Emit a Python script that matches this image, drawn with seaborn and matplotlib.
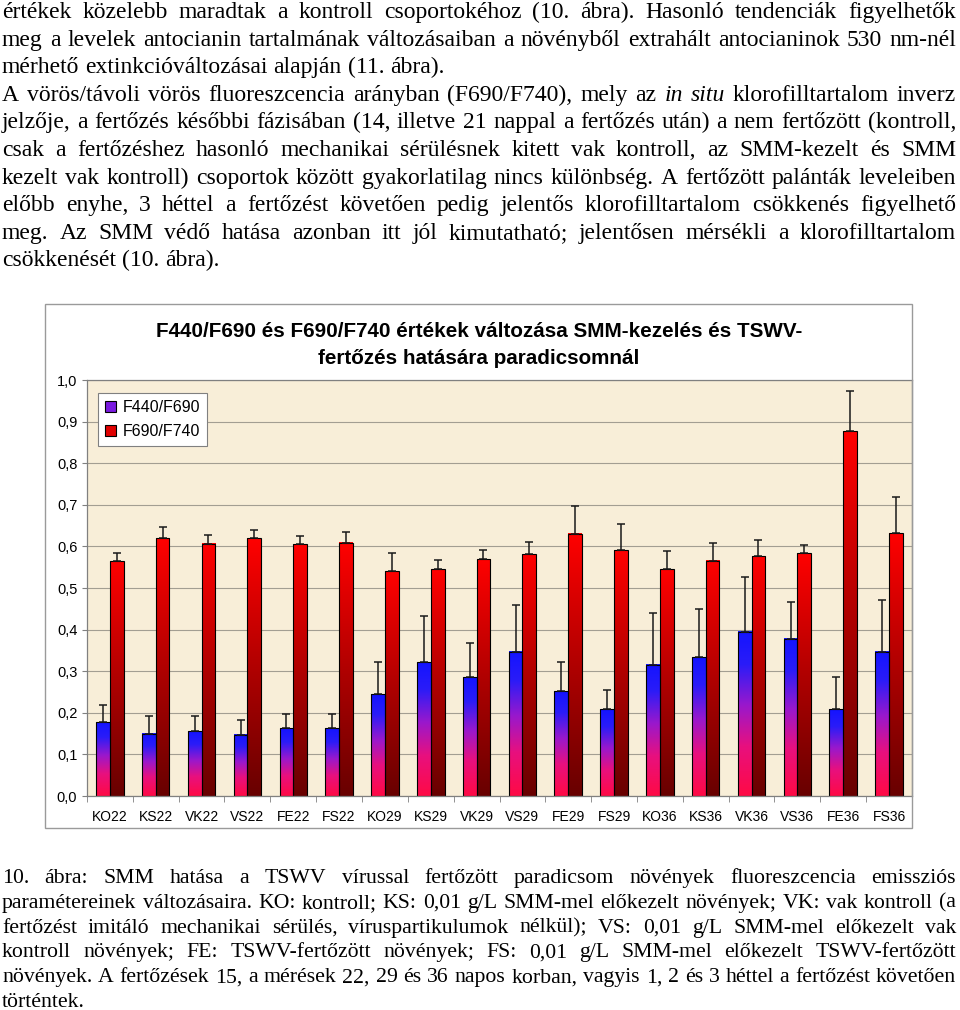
import numpy as np
import pandas as pd
import matplotlib
matplotlib.use("Agg")
import matplotlib.pyplot as plt
import seaborn as sns
from matplotlib.colors import LinearSegmentedColormap
from matplotlib.patches import Rectangle, Patch

# ---------------- data ----------------
groups = ["KO22", "KS22", "VK22", "VS22", "FE22", "FS22",
          "KO29", "KS29", "VK29", "VS29", "FE29", "FS29",
          "KO36", "KS36", "VK36", "VS36", "FE36", "FS36"]
series_names = ["F440/F690", "F690/F740"]
f440_f690 = [0.177, 0.150, 0.156, 0.147, 0.163, 0.163,
             0.244, 0.321, 0.285, 0.347, 0.252, 0.209,
             0.316, 0.334, 0.395, 0.378, 0.209, 0.347]
f440_f690_err = [0.042, 0.043, 0.037, 0.036, 0.034, 0.034,
                 0.077, 0.112, 0.082, 0.112, 0.069, 0.046,
                 0.125, 0.115, 0.132, 0.089, 0.077, 0.123]
f690_f740 = [0.564, 0.619, 0.606, 0.619, 0.605, 0.609,
             0.540, 0.545, 0.569, 0.581, 0.630, 0.591,
             0.545, 0.566, 0.576, 0.584, 0.877, 0.632]
f690_f740_err = [0.021, 0.028, 0.021, 0.020, 0.019, 0.026,
                 0.045, 0.023, 0.022, 0.030, 0.066, 0.064,
                 0.044, 0.043, 0.040, 0.020, 0.096, 0.087]
y_ticks = [0.0, 0.1, 0.2, 0.3, 0.4, 0.5, 0.6, 0.7, 0.8, 0.9, 1.0]
y_tick_labels = ["0,0", "0,1", "0,2", "0,3", "0,4", "0,5",
                 "0,6", "0,7", "0,8", "0,9", "1,0"]
chart_title = ["F440/F690 és F690/F740 értékek változása SMM-kezelés és TSWV-",
               "fertőzés hatására paradicsomnál"]

body_lines = [
    ("értékek közelebb maradtak a kontroll csoportokéhoz (10. ábra). Hasonló tendenciák figyelhetők", True),
    ("meg a levelek antocianin tartalmának változásaiban a növényből extrahált antocianinok 530 nm-nél", True),
    ("mérhető extinkcióváltozásai alapján (11. ábra).", False),
    ("A vörös/távoli vörös fluoreszcencia arányban (F690/F740), mely az *in* *situ* klorofilltartalom inverz", True),
    ("jelzője, a fertőzés későbbi fázisában (14, illetve 21 nappal a fertőzés után) a nem fertőzött (kontroll,", True),
    ("csak a fertőzéshez hasonló mechanikai sérülésnek kitett vak kontroll, az SMM-kezelt és SMM", True),
    ("kezelt vak kontroll) csoportok között gyakorlatilag nincs különbség. A fertőzött palánták leveleiben", True),
    ("előbb enyhe, 3 héttel a fertőzést követően pedig jelentős klorofilltartalom csökkenés figyelhető", True),
    ("meg. Az SMM védő hatása azonban itt jól kimutatható; jelentősen mérsékli a klorofilltartalom", True),
    ("csökkenését (10. ábra).", False),
]
caption_lines = [
    ("10. ábra: SMM hatása a TSWV vírussal fertőzött paradicsom növények fluoreszcencia emissziós", True),
    ("paramétereinek változásaira. KO: kontroll; KS: 0,01 g/L SMM-mel előkezelt növények; VK: vak kontroll (a", True),
    ("fertőzést imitáló mechanikai sérülés, víruspartikulumok nélkül); VS: 0,01 g/L SMM-mel előkezelt vak", True),
    ("kontroll növények; FE: TSWV-fertőzött növények; FS: 0,01 g/L SMM-mel előkezelt TSWV-fertőzött", True),
    ("növények. A fertőzések 15, a mérések 22, 29 és 36 napos korban, vagyis 1, 2 és 3 héttel a fertőzést követően", True),
    ("történtek.", False),
]

# ---------------- figure ----------------
W, H = 960, 1010
plt.rcParams["font.family"] = ["Liberation Sans", "DejaVu Sans"]
fig = plt.figure(figsize=(W / 100, H / 100), dpi=100)
fig.patch.set_facecolor("white")
renderer = fig.canvas.get_renderer()

SERIF = ["Liberation Serif", "DejaVu Serif"]


def draw_lines(lines, baselines, size, left=2, right=956):
    target = right - left
    tmp1 = fig.text(0, 0, "a a", fontsize=size, family=SERIF)
    tmp2 = fig.text(0, 0, "aa", fontsize=size, family=SERIF)
    space = tmp1.get_window_extent(renderer).width - tmp2.get_window_extent(renderer).width
    tmp1.remove(); tmp2.remove()
    for (line, justify), yb in zip(lines, baselines):
        texts = []
        for w in line.split(" "):
            style = "normal"
            if w.startswith("*") and w.endswith("*"):
                w = w.strip("*")
                style = "italic"
            t = fig.text(0, 1 - yb / H, w, fontsize=size, family=SERIF,
                         style=style, va="baseline", ha="left", color="black")
            texts.append(t)
        widths = [t.get_window_extent(renderer).width for t in texts]
        sp = space
        natural = sum(widths) + sp * (len(texts) - 1)
        if natural > target:
            f = target / natural * 0.995
            for t in texts:
                t.set_fontsize(size * f)
            widths = [t.get_window_extent(renderer).width for t in texts]
            sp = space * f
        if justify and len(texts) > 1:
            gap = (target - sum(widths)) / (len(texts) - 1)
        else:
            gap = sp
        x = left
        for t, w in zip(texts, widths):
            t.set_x(x / W)
            x += w + gap


draw_lines(body_lines, [18 + 27.6 * i for i in range(len(body_lines))], 17.0)
draw_lines(caption_lines, [883 + 24.8 * i for i in range(len(caption_lines))], 15.7)

# chart outer border
fig.add_artist(Rectangle((45 / W, 1 - 828 / H), (912 - 45) / W, (828 - 304) / H,
                         transform=fig.transFigure, fill=False,
                         edgecolor="#9a9a9a", lw=1.0))
fig.text(479 / W, 1 - 331 / H, chart_title[0], ha="center", va="center",
         fontsize=14.9, weight="bold", family=["Liberation Sans", "DejaVu Sans"])
fig.text(479 / W, 1 - 358 / H, chart_title[1], ha="center", va="center",
         fontsize=14.9, weight="bold", family=["Liberation Sans", "DejaVu Sans"])

# ---------------- axes ----------------
ax = fig.add_axes([87 / W, 1 - 796 / H, (912 - 87) / W, (796 - 380) / H])
ax.set_facecolor("#F8EED8")
ax.set_axisbelow(True)
ax.yaxis.grid(True, color="#A39E92", lw=0.8)

df = pd.DataFrame({
    "group": groups * 2,
    "series": [series_names[0]] * len(groups) + [series_names[1]] * len(groups),
    "value": f440_f690 + f690_f740,
})
sns.barplot(data=df, x="group", y="value", hue="series", order=groups,
            hue_order=series_names, palette=["#6020E0", "#D00000"], width=0.6,
            errorbar=None, edgecolor="black", linewidth=0.8, saturation=1,
            legend=False, ax=ax)

cmaps = [
    LinearSegmentedColormap.from_list("bp", [(0.0, "#FF0A45"), (0.3, "#E8107E"),
                                             (0.55, "#9A18CC"), (0.8, "#2A1CF8"),
                                             (1.0, "#1414FF")]),
    LinearSegmentedColormap.from_list("rd", [(0.0, "#680000"), (0.5, "#B00000"),
                                             (1.0, "#FF0000")]),
]
errs = [f440_f690_err, f690_f740_err]
grad = np.linspace(0, 1, 256).reshape(-1, 1)
for i, cont in enumerate(ax.containers[:2]):
    xs, hs = [], []
    for bar in cont:
        x0, w, h = bar.get_x(), bar.get_width(), bar.get_height()
        ax.imshow(grad, extent=[x0, x0 + w, 0, h], aspect="auto", cmap=cmaps[i],
                  origin="lower", zorder=2.1, interpolation="bilinear")
        bar.set_facecolor("none")
        bar.set_zorder(2.2)
        xs.append(x0 + w / 2)
        hs.append(h)
    ax.errorbar(xs, hs, yerr=[np.zeros(len(hs)), errs[i]], fmt="none",
                ecolor="#1a1a1a", elinewidth=1.1, capsize=3.2, capthick=1.1,
                zorder=2.3)

ax.set_xlim(-0.5, len(groups) - 0.5)
ax.set_ylim(0, 1.0)
ax.set_xlabel("")
ax.set_ylabel("")
ax.set_yticks(y_ticks, labels=y_tick_labels)
ax.set_xticks(range(len(groups)), labels=groups)
ax.set_xticks(np.arange(-0.5, len(groups), 1), minor=True)
ax.tick_params(axis="y", length=3.5, pad=3.5, labelsize=10.5, color="#808080")
ax.tick_params(axis="x", which="major", length=0, pad=10, labelsize=10)
ax.tick_params(axis="x", which="minor", length=4, color="#808080")
for s in ax.spines.values():
    s.set_color("#808080")
    s.set_linewidth(0.9)

handles = [Patch(facecolor="#7A1AE0", edgecolor="black", lw=0.8),
           Patch(facecolor="#E00000", edgecolor="black", lw=0.8)]
leg = ax.legend(handles, series_names, loc="upper left",
                bbox_to_anchor=((98 - 87) / 825, (796 - 393) / 416),
                frameon=True, fancybox=False, edgecolor="#808080", framealpha=1,
                fontsize=11.5, handlelength=0.7, handleheight=0.7,
                handletextpad=0.4, borderpad=0.45, labelspacing=0.55,
                borderaxespad=0)
leg.get_frame().set_linewidth(0.8)

fig.savefig("out.png", dpi=100)
